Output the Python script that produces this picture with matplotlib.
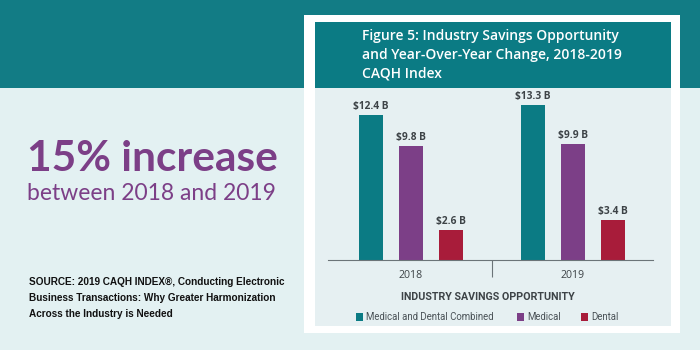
import matplotlib.pyplot as plt
from matplotlib.patches import Rectangle
import numpy as np

years = ["2018", "2019"]
series = ["Medical and Dental Combined", "Medical", "Dental"]
combined = [12.4, 13.3]
medical = [9.8, 9.9]
dental = [2.6, 3.4]
labels_combined = ["$12.4 B", "$13.3 B"]
labels_medical = ["$9.8 B", "$9.9 B"]
labels_dental = ["$2.6 B", "$3.4 B"]

TEAL = "#0b7b84"
PURPLE = "#7c3f87"
RED = "#a81c3a"
BG = "#e3f1f2"
PANEL = "#e6f0f2"
TXT = "#3d4347"

W, H = 700, 350
fig = plt.figure(figsize=(7, 3.5), dpi=100)
fig.patch.set_facecolor(BG)

def px_rect(x0, y0, x1, y1, color, z=-10):
    # pixel coords from top-left
    fig.patches.append(Rectangle((x0 / W, 1 - y1 / H), (x1 - x0) / W, (y1 - y0) / H,
                                 transform=fig.transFigure, facecolor=color,
                                 edgecolor="none", zorder=z))

px_rect(0, 0, 700, 88, "#127c85")
px_rect(304, 15, 680, 333, "white")
px_rect(315, 22, 671, 88, TEAL)
px_rect(315, 88, 671, 326, PANEL)

def ftext(x, y, s, **kw):
    fig.text(x / W, 1 - y / H, s, **kw)

title = "Figure 5: Industry Savings Opportunity\nand Year-Over-Year Change, 2018-2019\nCAQH Index"
ftext(362, 55, title, color="white", fontsize=10, family="Open Sans", weight="semibold",
      va="center", ha="left", linespacing=1.45)

ftext(27, 159, "15% increase", color=PURPLE, fontsize=30.5, family="Lato", weight="bold",
      va="center", ha="left")
ftext(27, 194, "between 2018 and 2019", color=PURPLE, fontsize=16.5, family="Lato",
      weight="normal", va="center", ha="left")
src = ("SOURCE: 2019 CAQH INDEX\u00ae, Conducting Electronic\n"
       "Business Transactions: Why Greater Harmonization\n"
       "Across the Industry is Needed")
ftext(29, 298, src, color="#111111", fontsize=7.2, family="Liberation Sans",
      weight="bold", va="center", ha="left", linespacing=1.75)

# chart axes: x 328..653 px, baseline 260 px
ymax = 14.0
scale = 11.68
ax_top = 260 - ymax * scale
ax = fig.add_axes([328 / W, 1 - 260 / H, (653 - 328) / W, (260 - ax_top) / H])
ax.set_facecolor("none")
ax.set_xlim(-83 / 162, 1 + 80 / 162)
ax.set_ylim(0, ymax)

x = np.arange(len(years))
bw = 24 / 162
off = 40 / 162
groups = [(combined, labels_combined, TEAL, -off),
          (medical, labels_medical, PURPLE, 0),
          (dental, labels_dental, RED, off)]
for vals, labs, col, o in groups:
    ax.bar(x + o, vals, width=bw, color=col)
    for xi, v, lab in zip(x + o, vals, labs):
        ax.text(xi, v + 0.25, lab, ha="center", va="bottom", fontsize=7.3,
                family="Open Sans", weight="bold", color=TXT)

for s in ["top", "right", "left"]:
    ax.spines[s].set_visible(False)
ax.spines["bottom"].set_color("#6b7478")
ax.spines["bottom"].set_linewidth(0.8)
ax.set_yticks([])
ax.set_xticks(x)
ax.set_xticklabels(years, family="Open Sans", fontsize=7.6, color=TXT)
ax.tick_params(axis="x", length=0, pad=7)
ax.set_xticks([0.5], minor=True)
ax.tick_params(axis="x", which="minor", length=12, width=0.8, color="#6b7478")

ftext(488, 297, "INDUSTRY SAVINGS OPPORTUNITY", color=TXT, fontsize=7.7,
      family="Roboto", weight="bold", ha="center", va="center")

legend_x = [356, 517, 581]
for lx, name, col in zip(legend_x, series, [TEAL, PURPLE, RED]):
    px_rect(lx, 313, lx + 7, 321, col)
    ftext(lx + 10, 317, name, color="#4a5257", fontsize=6.9, family="Roboto",
          ha="left", va="center")

fig.savefig("out.png", dpi=100, facecolor=BG)
